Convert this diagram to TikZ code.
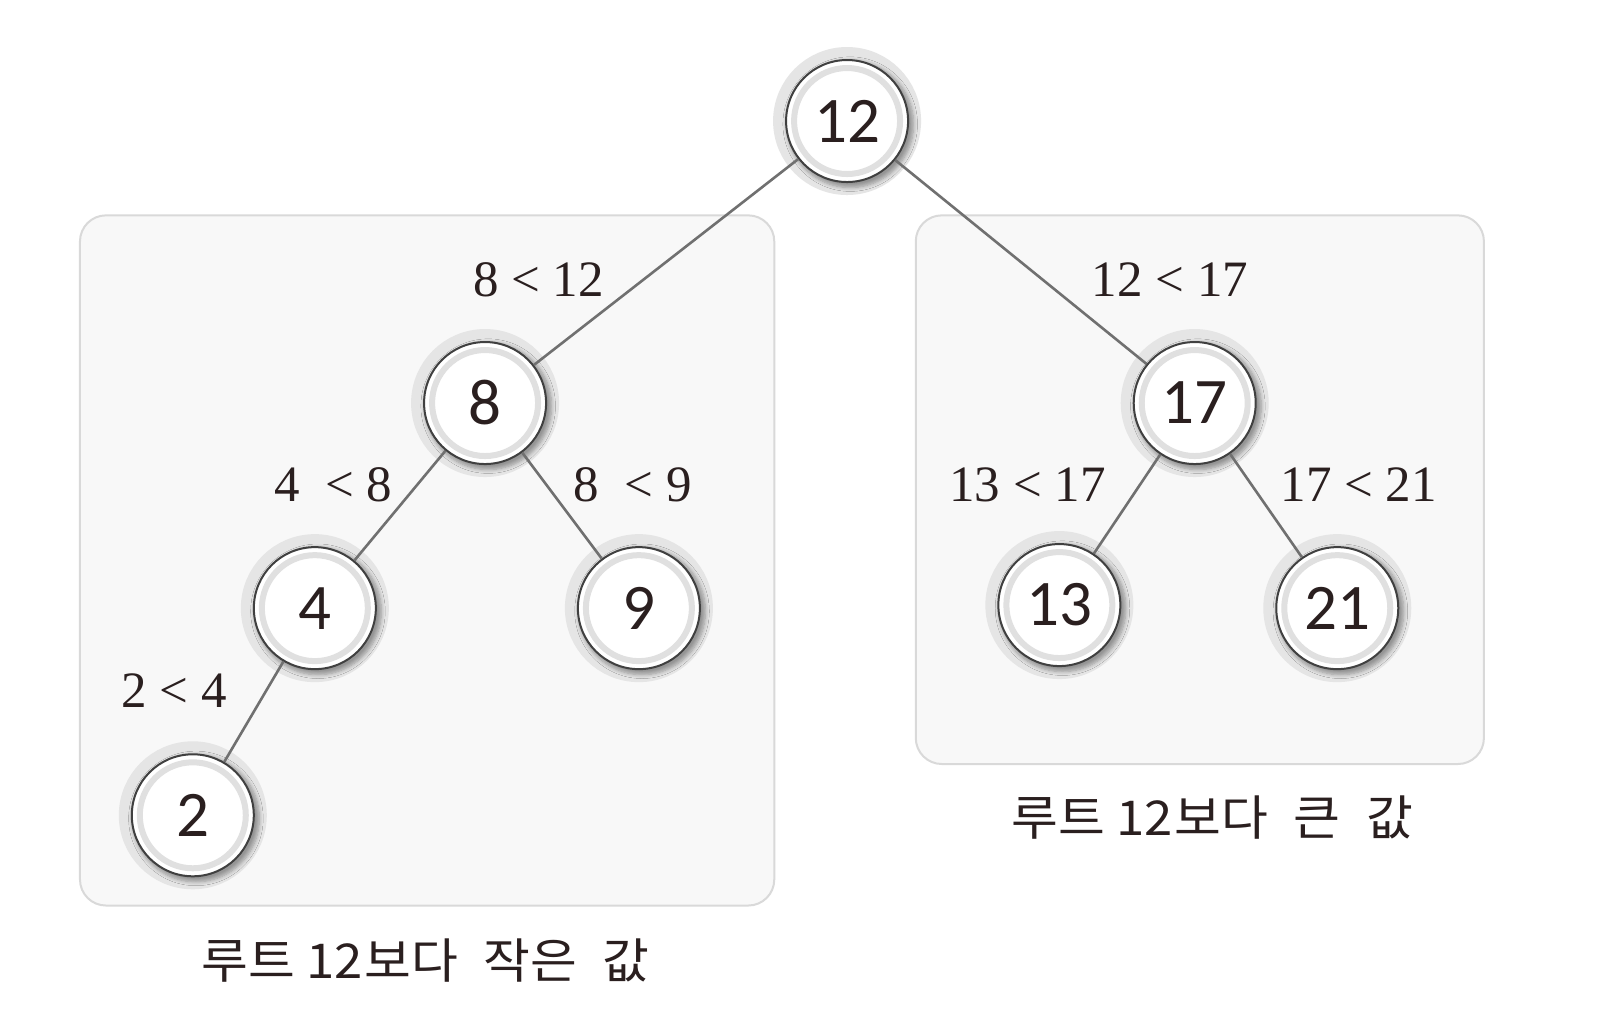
\documentclass[tikz,border=0pt]{standalone}
\usepackage{fontspec}
\setmainfont{Liberation Serif}
\newfontfamily\numfont{Carlito}
\newfontfamily\krfont[FakeStretch=1.06]{Noto Sans CJK KR}
\usetikzlibrary{shadows.blur}
\definecolor{txt}{HTML}{2A1F1F}
\definecolor{boxfill}{HTML}{F8F8F8}
\definecolor{boxline}{HTML}{D9D9D9}
\definecolor{edgec}{HTML}{707070}
\tikzset{
  x=0.51276pt, y=-0.51276pt,
  region/.style={draw=boxline, fill=boxfill, line width=1pt, rounded corners=13pt},
  treenode/.style={circle, minimum size=61pt, inner sep=0pt, fill=white,
    draw=black!75, line width=1pt, text=txt,
    font=\numfont\fontsize{32.5}{32.5}\selectfont,
    preaction={draw=black!10, line width=13pt},
    blur shadow={shadow xshift=1.5pt, shadow yshift=-1.5pt, shadow blur steps=6, shadow opacity=35, shadow scale=1.04},
    path picture={\draw[black!12, line width=3pt] (path picture bounding box.center) circle (26.5pt);}},
  edge/.style={draw=edgec, line width=1.3pt},
  cmp/.style={text=txt, font=\fontsize{25.5}{25.5}\selectfont, inner sep=0pt},
  caption/.style={text=txt, font=\krfont\fontsize{24}{24}\selectfont, inner sep=0pt}
}
\begin{document}
\begin{tikzpicture}
\useasboundingbox (0,0) rectangle (1568,1002.4);
\fill[white] (0,0) rectangle (1568,1002.4);
\path[region] (78,210) rectangle (755,883);
\path[region] (893,210) rectangle (1447,745);

\node[treenode] (n12) at (826,118) {12};
\node[treenode] (n8) at (473,393) {8};
\node[treenode] (n17) at (1165,393) {17};
\node[treenode] (n4) at (307,593) {4};
\node[treenode] (n9) at (623,593) {9};
\node[treenode] (n13) at (1033,590) {13};
\node[treenode] (n21) at (1304,593) {21};
\node[treenode] (n2) at (188,795) {2};

\draw[edge] (n12) -- (n8);
\draw[edge] (n12) -- (n17);
\draw[edge] (n8) -- (n4);
\draw[edge] (n8) -- (n9);
\draw[edge] (n17) -- (n13);
\draw[edge] (n17) -- (n21);
\draw[edge] (n4) -- (n2);

\node[cmp] (l1) at (525,273) {8 < 12};
\node[cmp] (l2) at (1141,273) {12 < 17};
\node[cmp] (l3) at (325,473) {4\enspace < 8};
\node[cmp] (l4) at (617,473) {8\enspace < 9};
\node[cmp] (l5) at (1002,473) {13 < 17};
\node[cmp] (l6) at (1325,473) {17 < 21};
\node[cmp] (l7) at (170,673) {2 < 4};

\node[caption] (c1) at (415,937) {루트 12\hspace{1pt}보다\hspace{7pt} 작은\hspace{7pt} 값};
\node[caption] (c2) at (1182,797) {루트 12\hspace{1pt}보다\hspace{7pt} 큰\hspace{7pt} 값};
\end{tikzpicture}
\end{document}
